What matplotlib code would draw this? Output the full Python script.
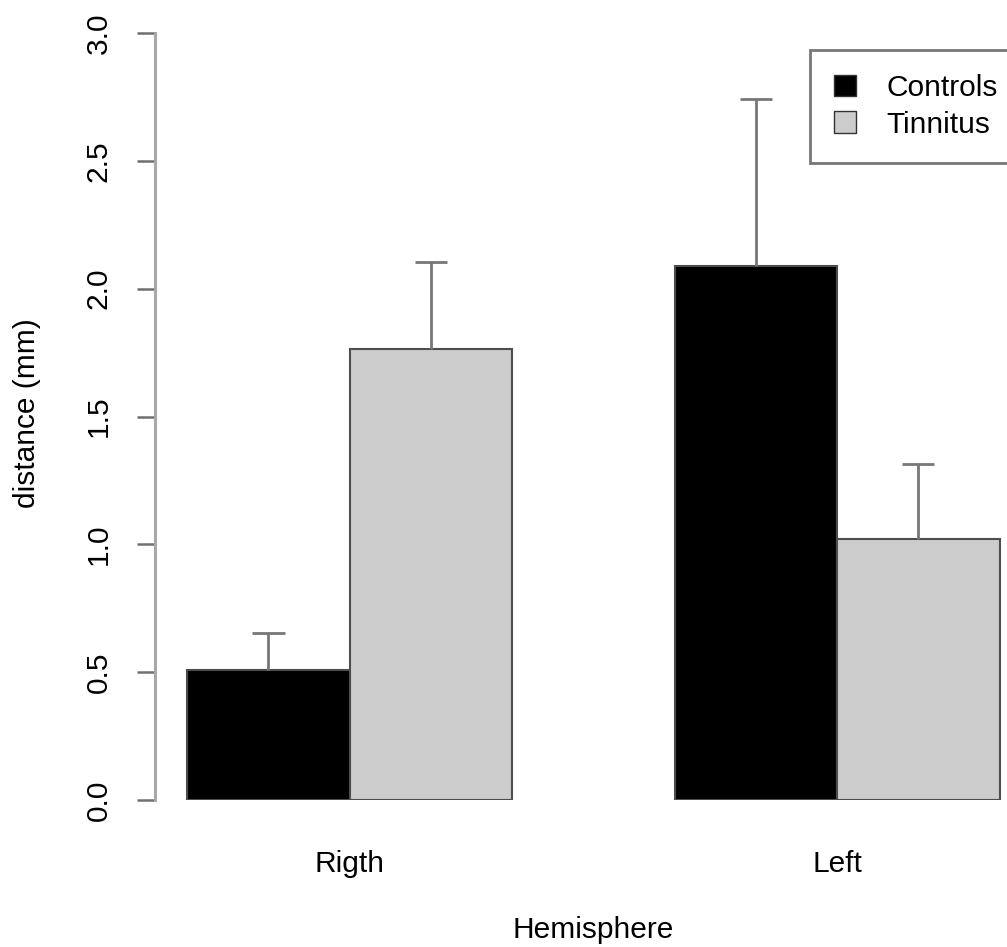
import numpy as np
import matplotlib
matplotlib.use("Agg")
import matplotlib.pyplot as plt

plt.rcParams['font.family'] = ['Liberation Sans', 'DejaVu Sans']

hemispheres = ['Rigth', 'Left']
groups = ['Controls', 'Tinnitus']
means = {'Controls': [0.51, 2.09], 'Tinnitus': [1.765, 1.02]}
errs = {'Controls': [0.145, 0.65], 'Tinnitus': [0.34, 0.295]}
colors = {'Controls': '#000000', 'Tinnitus': '#cccccc'}

W, H = 1007, 947
fig = plt.figure(figsize=(W / 100, H / 100), dpi=100)
# plot region in pixels: y-axis at x=154.5, bars start at x=187 (1 unit = 162.5 px)
unit = 162.5
ax_px = 154.5
x_left = 0.8
x_right = 1 + (W - 187) / unit
ax = fig.add_axes([ax_px / W, (H - 800) / H, (W - ax_px) / W, (800 - 33) / H])
ax.set_xlim(x_left, x_right)
ax.set_ylim(0, 3)

# R barplot(beside=TRUE) layout: bars at 1-2, 2-3 then 4-5, 5-6
starts = np.array([1.0, 4.0])
for gi, g in enumerate(groups):
    lefts = starts + gi
    ax.bar(lefts, means[g], width=1.0, align='edge', color=colors[g],
           edgecolor='#4d4d4d', linewidth=1.5, zorder=2)
    centers = lefts + 0.5
    tops = np.array(means[g]) + np.array(errs[g])
    ax.vlines(centers, means[g], tops, color='#777777', linewidth=2, zorder=3)
    ax.hlines(tops, centers - 0.1, centers + 0.1, color='#777777', linewidth=2, zorder=3)

for s in ['top', 'right', 'bottom']:
    ax.spines[s].set_visible(False)
ax.spines['left'].set_color('#a8a8a8')
ax.spines['left'].set_linewidth(2.2)
ax.spines['left'].set_bounds(0, 3)
ax.set_yticks(np.arange(0, 3.01, 0.5))
ax.set_yticklabels([f'{v:.1f}' for v in np.arange(0, 3.01, 0.5)],
                   rotation=90, va='center', fontsize=21.5)
ax.tick_params(axis='y', length=13, width=1.8, color='#707070', pad=17)

ax.set_xticks(starts + 1)
ax.set_xticklabels(hemispheres, fontsize=21.5)
ax.tick_params(axis='x', length=0, pad=36)

fig.text(593 / W, 1 - 930 / H, 'Hemisphere', ha='center', va='center', fontsize=21.5)
fig.text(27 / W, 1 - 413 / H, 'distance (mm)', ha='center', va='center',
         rotation=90, fontsize=21.5)

handles = [plt.Rectangle((0, 0), 1, 1, facecolor=colors[g], edgecolor='#333333')
           for g in groups]
leg = ax.legend(handles, groups, loc='upper left',
                bbox_to_anchor=(810 / W, 1 - 50 / H), bbox_transform=fig.transFigure,
                fontsize=21.5, frameon=True, fancybox=False, borderpad=0.8,
                handlelength=0.75, handleheight=0.75, handletextpad=1.0,
                labelspacing=0.3, borderaxespad=0)
leg.get_frame().set_edgecolor('#555555')
leg.get_frame().set_linewidth(2)

fig.savefig('out.png', dpi=100)
